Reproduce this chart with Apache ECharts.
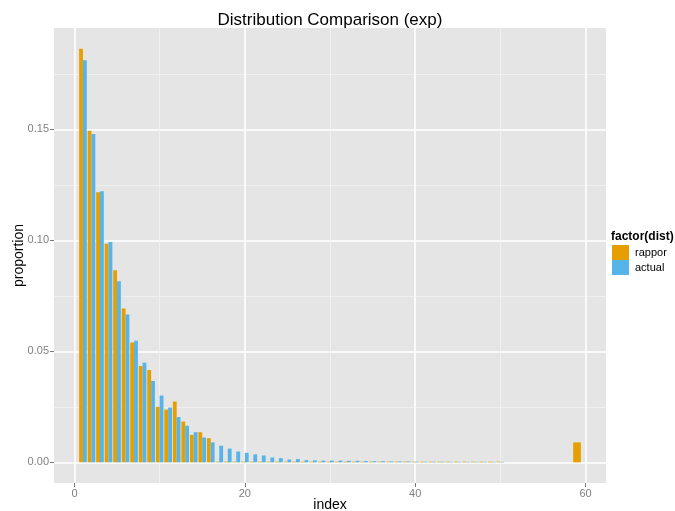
<!DOCTYPE html>
<html>
<head>
<meta charset="utf-8">
<script src="https://cdn.jsdelivr.net/npm/echarts@6/dist/echarts.min.js"></script>
<style>
html,body{margin:0;padding:0;background:#fff;}
#chart{width:675px;height:511px;}
</style>
</head>
<body>
<div id="chart"></div>
<script>
// ---- data ----
const rapporIndex = [1,2,3,4,5,6,7,8,9,10,11,12,13,14,15,16,17,18,19,20,21,22,23,24,25,26,27,28,29,30,31,32,33,34,35,36,37,38,39,40,41,42,43,44,45,46,47,48,49,50,59];
const rapporValue = [0.1864,0.1494,0.1217,0.0985,0.0866,0.0693,0.0540,0.0434,0.0416,0.0250,0.0238,0.0274,0.0184,0.0124,0.0136,0.0109,
  0.0003,0.0003,0.0003,0.0003,0.0003,0.0003,0.0003,0.0003,0.0003,0.0003,0.0003,0.0003,0.0003,0.0003,0.0003,0.0003,0.0003,0.0003,
  0.0003,0.0003,0.0003,0.0003,0.0003,0.0003,0.0003,0.0003,0.0003,0.0003,0.0003,0.0003,0.0003,0.0003,0.0003,0.0003,0.0090];
const actualIndex = [1,2,3,4,5,6,7,8,9,10,11,12,13,14,15,16,17,18,19,20,21,22,23,24,25,26,27,28,29,30,31,32,33,34,35,36,37,38,39,40,41,42,43,44,45,46,47,48,49,50];
const actualValue = [0.1812,0.1479,0.1222,0.0993,0.0816,0.0666,0.0548,0.0449,0.0367,0.0301,0.0247,0.0204,0.0165,0.0136,0.0112,0.0090,
  0.0075,0.0062,0.0049,0.0043,0.0036,0.0031,0.0022,0.0019,0.0013,0.0015,0.0010,0.0009,0.0008,0.0008,0.0008,0.0007,0.0007,
  0.0006,0.0005,0.0005,0.0004,0.0004,0.0004,0.0003,0.0003,0.0003,0.0003,0.0002,0.0002,0.0002,0.0002,0.0002,0.0002,0.0002];
const xMajorTicks = [0,20,40,60];
const xMinorTicks = [10,30,50];
const yMajorTicks = [0,0.05,0.10,0.15];
const yMinorTicks = [0.025,0.075,0.125,0.175];
const seriesNames = ['rappor','actual'];

// ---- chart ----
const FONT = 'Liberation Sans, Arial, sans-serif';
const xMin = -2.4, xMax = 62.4, yMin = -0.0093, yMax = 0.1957;
const rapporSet = new Set(rapporIndex);
const actualSet = new Set(actualIndex);

function makeRender(side, otherSet) {
  return function (params, api) {
    const x = api.value(0), y = api.value(1);
    let x0, x1;
    if (!otherSet.has(x)) { x0 = x - 0.45; x1 = x + 0.45; }
    else if (side === 'left') { x0 = x - 0.45; x1 = x; }
    else { x0 = x; x1 = x + 0.45; }
    const p0 = api.coord([x0, y]);
    const p1 = api.coord([x1, 0]);
    return {
      type: 'rect',
      shape: { x: p0[0], y: p0[1], width: p1[0] - p0[0], height: p1[1] - p0[1] },
      style: { fill: api.visual('color') }
    };
  };
}

const chart = echarts.init(document.getElementById('chart'), null, { renderer: 'canvas' });
const axisLabelStyle = { color: '#808080', fontSize: 11, fontFamily: FONT };

chart.setOption({
  animation: false,
  backgroundColor: '#ffffff',
  title: [
    { text: 'Distribution Comparison (exp)', left: 325, top: 7, textAlign: 'center',
      textStyle: { fontSize: 17, fontWeight: 'normal', color: '#000', fontFamily: FONT } },
    { text: 'factor(dist)', left: 611, top: 231, padding: 0,
      textStyle: { fontSize: 12, fontWeight: 'bold', color: '#000', fontFamily: FONT } }
  ],
  legend: {
    orient: 'vertical', left: 612, top: 245, padding: 0,
    itemWidth: 17, itemHeight: 15, itemGap: 0,
    textStyle: { fontSize: 11, color: '#000', fontFamily: FONT, padding: [0, 0, 0, 1] },
    data: seriesNames.map(n => ({ name: n, icon: 'rect' }))
  },
  grid: {
    left: 54, right: 69, top: 28, height: 455,
    outerBoundsMode: 'none', containLabel: false,
    show: true, backgroundColor: '#E5E5E5', borderWidth: 0
  },
  xAxis: [
    {
      type: 'value', min: xMin, max: xMax,
      name: 'index', nameLocation: 'middle', nameGap: 15, nameMoveOverlap: false,
      nameTextStyle: { fontSize: 14, color: '#000', fontFamily: FONT },
      axisLine: { show: false, onZero: false },
      axisTick: { show: true, length: 4, customValues: xMajorTicks, lineStyle: { color: '#7a7a7a', width: 1 } },
      axisLabel: Object.assign({ customValues: xMajorTicks, margin: 5, formatter: v => String(v) }, axisLabelStyle),
      splitLine: { show: true, lineStyle: { color: '#ffffff', width: 1.6 } }
    },
    {
      type: 'value', min: xMin, max: xMax, position: 'bottom',
      axisLine: { show: false, onZero: false },
      axisTick: { show: false, customValues: xMinorTicks },
      axisLabel: { show: false, customValues: xMinorTicks },
      splitLine: { show: true, lineStyle: { color: '#F2F2F2', width: 0.8 } }
    }
  ],
  yAxis: [
    {
      type: 'value', min: yMin, max: yMax,
      name: 'proportion', nameLocation: 'middle', nameGap: 28, nameRotate: 90, nameMoveOverlap: false,
      nameTextStyle: { fontSize: 14, color: '#000', fontFamily: FONT },
      axisLine: { show: false, onZero: false },
      axisTick: { show: true, length: 4, customValues: yMajorTicks, lineStyle: { color: '#7a7a7a', width: 1 } },
      axisLabel: Object.assign({ customValues: yMajorTicks, margin: 5, formatter: v => v.toFixed(2) }, axisLabelStyle),
      splitLine: { show: true, lineStyle: { color: '#ffffff', width: 1.6 } }
    },
    {
      type: 'value', min: yMin, max: yMax, position: 'left',
      axisLine: { show: false, onZero: false },
      axisTick: { show: false, customValues: yMinorTicks },
      axisLabel: { show: false, customValues: yMinorTicks },
      splitLine: { show: true, lineStyle: { color: '#F2F2F2', width: 0.8 } }
    }
  ],
  series: [
    {
      name: 'rappor', type: 'custom', xAxisIndex: 0, yAxisIndex: 0,
      itemStyle: { color: '#E69F00' },
      encode: { x: 0, y: 1 },
      renderItem: makeRender('left', actualSet),
      data: rapporIndex.map((x, i) => [x, rapporValue[i]])
    },
    {
      name: 'actual', type: 'custom', xAxisIndex: 0, yAxisIndex: 0,
      itemStyle: { color: '#56B4E9' },
      encode: { x: 0, y: 1 },
      renderItem: makeRender('right', rapporSet),
      data: actualIndex.map((x, i) => [x, actualValue[i]])
    }
  ]
});
</script>
</body>
</html>
